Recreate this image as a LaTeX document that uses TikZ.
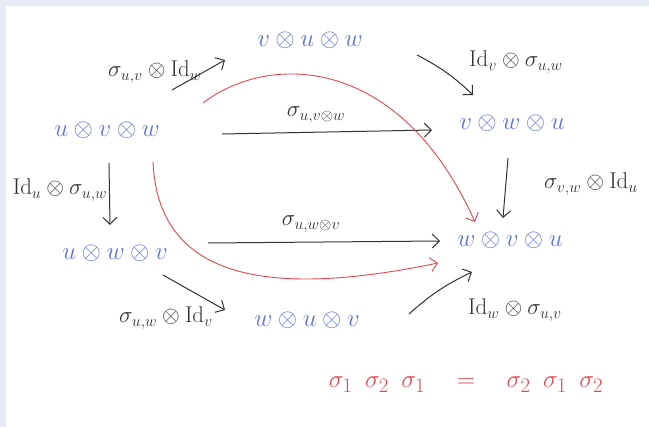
\documentclass[tikz,border=0pt]{standalone}
\usepackage{graphicx}
\usepackage{amsmath, amssymb}
\usetikzlibrary{arrows.meta}
\definecolor{penblue}{RGB}{95,115,225}
\definecolor{penred}{RGB}{232,70,80}
\definecolor{pengray}{RGB}{50,50,50}
\definecolor{paperedge}{RGB}{232,234,246}
\newcommand{\morphtext}[1]{\scalebox{1.1}{$#1$}}
\tikzset{
  object/.style = {text=penblue, font=\Huge, inner sep=2pt},
  morph/.style  = {text=pengray, font=\huge, inner sep=2pt},
  flow/.style   = {-{Straight Barb[length=7pt, width=14pt]}, draw=pengray,
                   line width=1pt},
  braid/.style  = {-{Straight Barb[length=7pt, width=14pt]}, draw=penred,
                   line width=0.9pt},
}

\begin{document}
\begin{tikzpicture}[x=1pt, y=-1pt]
  \fill[paperedge] (0,0) rectangle (649,427);
  \fill[white] (6,6) rectangle (649,427);
  \useasboundingbox (0,0) rectangle (649,427);

  % objects
  \node[object] (uvw) at (107,130) {$u\otimes v\otimes w$};
  \node[object] (vuw) at (310,40)  {$v\otimes u\otimes w$};
  \node[object] (vwu) at (512,123) {$v\otimes w\otimes u$};
  \node[object] (wvu) at (510,240) {$w\otimes v\otimes u$};
  \node[object] (uwv) at (115,253) {$u\otimes w\otimes v$};
  \node[object] (wuv) at (307,320) {$w\otimes u\otimes v$};

  % morphisms
  \node[morph] (m1) at (155,72)  {\morphtext{\sigma_{u,v}\otimes\mathrm{Id}_w}};
  \node[morph] (m2) at (516,62)  {\morphtext{\mathrm{Id}_v\otimes\sigma_{u,w}}};
  \node[morph] (m3) at (316,115) {\morphtext{\sigma_{u,v\otimes w}}};
  \node[morph] (m4) at (591,184) {\morphtext{\sigma_{v,w}\otimes\mathrm{Id}_u}};
  \node[morph] (m5) at (60,190)  {\morphtext{\mathrm{Id}_u\otimes\sigma_{u,w}}};
  \node[morph] (m6) at (311,224) {\morphtext{\sigma_{u,w\otimes v}}};
  \node[morph] (m7) at (166,318) {\morphtext{\sigma_{u,w}\otimes\mathrm{Id}_v}};
  \node[morph] (m8) at (515,310) {\morphtext{\mathrm{Id}_w\otimes\sigma_{u,v}}};

  \node[text=penred, font=\Huge] (eq) at (466,385)
    {$\sigma_1\enspace\sigma_2\enspace\sigma_1\quad=\quad\sigma_2\enspace\sigma_1\enspace\sigma_2$};

  \draw[flow] ([shift={(65,-40)}]uvw.center) -- ([shift={(-85,20)}]vuw.center);
  \draw[flow] ([shift={(107,15)}]vuw.center) to[bend left=8] ([shift={(-39,-28)}]vwu.center);
  \draw[flow] ([shift={(115,4)}]uvw.center) -- ([shift={(-80,7)}]vwu.center);
  \draw[flow] ([shift={(-4,35)}]vwu.center) -- ([shift={(-7,-22)}]wvu.center);
  \draw[flow] ([shift={(2,33)}]uvw.center) -- ([shift={(-5,-28)}]uwv.center);
  \draw[flow] ([shift={(93,-10)}]uwv.center) -- ([shift={(-70,1)}]wvu.center);
  \draw[flow] ([shift={(48,22)}]uwv.center) -- ([shift={(-82,-10)}]wuv.center);
  \draw[flow] ([shift={(102,-6)}]wuv.center) to[bend left=8] ([shift={(-38,32)}]wvu.center);

  % the two composites
  \draw[braid] ([shift={(96,-27)}]uvw.center)
    .. controls (270,52) and (400,55) .. ([shift={(-35,-18)}]wvu.center);
  \draw[braid] ([shift={(46,32)}]uvw.center)
    .. controls (158,275) and (260,300) .. ([shift={(-72,23)}]wvu.center);
\end{tikzpicture}
\end{document}
